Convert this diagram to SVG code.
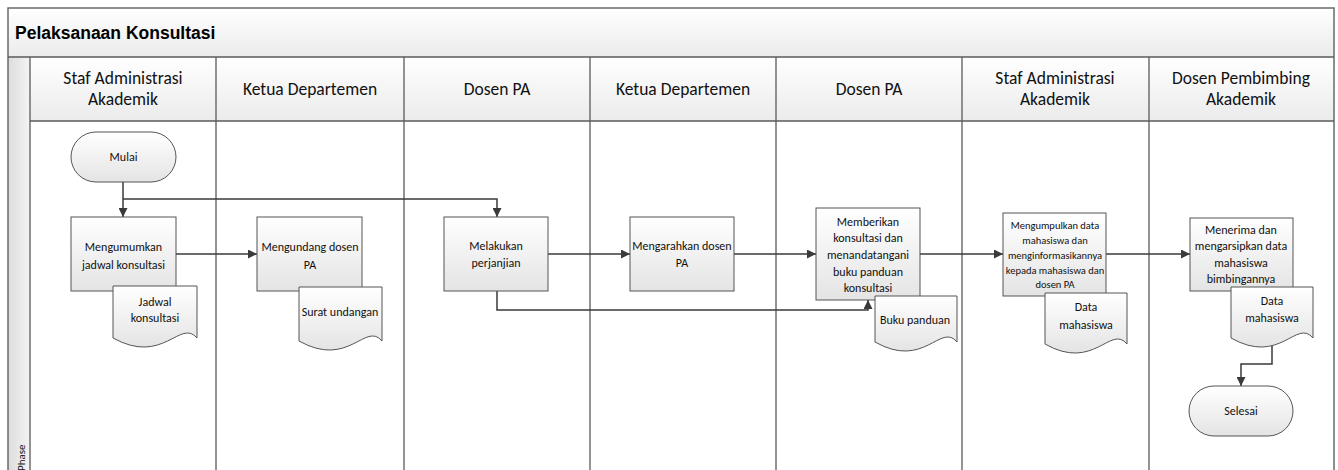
<svg xmlns="http://www.w3.org/2000/svg" width="1338" height="470" viewBox="0 0 1338 470">
<defs>
<linearGradient id="gBand" x1="0" y1="0" x2="0" y2="1"><stop offset="0" stop-color="#ffffff"/><stop offset="1" stop-color="#ebebeb"/></linearGradient>
<linearGradient id="gPhase" x1="0" y1="0" x2="1" y2="0"><stop offset="0" stop-color="#dcdcdc"/><stop offset="1" stop-color="#f4f4f4"/></linearGradient>
<linearGradient id="gNode" x1="0" y1="0" x2="0" y2="1"><stop offset="0" stop-color="#ffffff"/><stop offset="1" stop-color="#e4e4e4"/></linearGradient>
<marker id="arr" viewBox="0 0 10 10" refX="10" refY="5" markerWidth="10" markerHeight="9" markerUnits="userSpaceOnUse" orient="auto"><path d="M0,0 L10,5 L0,10 Z" fill="#3a3a3a"/></marker>
</defs>
<style>
.frame{fill:none;stroke:#6a6a6a;stroke-width:1.5}
.lane{stroke:#5a5a5a;stroke-width:1.3}
.node{fill:url(#gNode);stroke:#555;stroke-width:1}
.conn{fill:none;stroke:#3a3a3a;stroke-width:1.5}
.arrow{marker-end:url(#arr)}
.hd{font-family:Carlito,Lato,"Open Sans",sans-serif;font-size:17.5px;fill:#111;text-anchor:middle}
.tx{font-family:Carlito,Lato,"Open Sans",sans-serif;font-size:12px;fill:#111;text-anchor:middle}
.sm{font-size:10.5px}
.title{font-family:"Liberation Sans",Arial,sans-serif;font-size:17.5px;font-weight:bold;fill:#000}
</style>
<rect x="0" y="0" width="1338" height="470" fill="#ffffff"/>
<g id="pool">
<rect x="8" y="8" width="1326" height="49" fill="url(#gBand)"/>
<rect x="30" y="57" width="1304" height="64" fill="url(#gBand)"/>
<rect x="8" y="57" width="22" height="420" fill="url(#gPhase)"/>
<text class="title" x="15" y="39">Pelaksanaan Konsultasi</text>
<text class="tx" x="25" y="471" transform="rotate(-90 25 471)" style="text-anchor:start;font-size:11px">Phase</text>
<rect class="frame" x="8" y="8" width="1326" height="480"/>
<line class="lane" x1="8" y1="57" x2="1334" y2="57"/>
<line class="lane" x1="30" y1="121" x2="1334" y2="121"/>
<line class="lane" x1="30" y1="57" x2="30" y2="480"/>
<line class="lane" x1="216" y1="57" x2="216" y2="480"/>
<line class="lane" x1="404" y1="57" x2="404" y2="480"/>
<line class="lane" x1="590" y1="57" x2="590" y2="480"/>
<line class="lane" x1="776" y1="57" x2="776" y2="480"/>
<line class="lane" x1="962" y1="57" x2="962" y2="480"/>
<line class="lane" x1="1149" y1="57" x2="1149" y2="480"/>
<text class="hd" x="123" y="84">Staf Administrasi</text>
<text class="hd" x="123" y="105">Akademik</text>
<text class="hd" x="310" y="95">Ketua Departemen</text>
<text class="hd" x="497" y="95">Dosen PA</text>
<text class="hd" x="683" y="95">Ketua Departemen</text>
<text class="hd" x="869" y="95">Dosen PA</text>
<text class="hd" x="1055" y="84">Staf Administrasi</text>
<text class="hd" x="1055" y="105">Akademik</text>
<text class="hd" x="1241" y="84">Dosen Pembimbing</text>
<text class="hd" x="1241" y="105">Akademik</text>
</g>
<g id="connectors">
<path class="conn arrow" d="M123,182 V217"/>
<path class="conn arrow" d="M123,199 H497 V217"/>
<path class="conn arrow" d="M176,254 H257"/>
<path class="conn arrow" d="M548,254 H630"/>
<path class="conn arrow" d="M734,254 H816"/>
<path class="conn arrow" d="M920,254 H1003"/>
<path class="conn arrow" d="M1106,254 H1190"/>
<path class="conn arrow" d="M497,291 V310 H868 V300"/>
<path class="conn arrow" d="M1272,342 V364 H1241 V386"/>
</g>
<g id="mulai">
<rect class="node" x="71" y="132" width="105" height="50" rx="25" ry="25"/>
<text class="tx" x="123.5" y="161">Mulai</text>
</g>
<g id="mengumumkan">
<rect class="node" x="71" y="217" width="105" height="74"/>
<text class="tx" x="123.5" y="251">Mengumumkan</text>
<text class="tx" x="123.5" y="269">jadwal konsultasi</text>
</g>
<g id="doc-jadwal">
<path class="node" d="M113,286 H197 V338 C180.2,318 163.4,366 113,338 Z"/>
<text class="tx" x="155" y="306">Jadwal</text>
<text class="tx" x="155" y="322">konsultasi</text>
</g>
<g id="mengundang">
<rect class="node" x="257" y="217" width="105" height="74"/>
<text class="tx" x="310" y="251">Mengundang dosen</text>
<text class="tx" x="310" y="269">PA</text>
</g>
<g id="doc-surat">
<path class="node" d="M299,287 H382 V341 C365.4,321 348.8,369 299,341 Z"/>
<text class="tx" x="340" y="316">Surat undangan</text>
</g>
<g id="melakukan">
<rect class="node" x="444" y="217" width="104" height="74"/>
<text class="tx" x="496" y="250">Melakukan</text>
<text class="tx" x="496" y="267">perjanjian</text>
</g>
<g id="mengarahkan">
<rect class="node" x="630" y="217" width="104" height="74"/>
<text class="tx" x="682" y="250">Mengarahkan dosen</text>
<text class="tx" x="682" y="267">PA</text>
</g>
<g id="memberikan">
<rect class="node" x="816" y="208" width="104" height="92"/>
<text class="tx" x="868" y="226">Memberikan</text>
<text class="tx" x="868" y="242">konsultasi dan</text>
<text class="tx" x="868" y="259">menandatangani</text>
<text class="tx" x="868" y="276">buku panduan</text>
<text class="tx" x="868" y="292">konsultasi</text>
</g>
<g id="doc-buku">
<path class="node" d="M875,296 H957 V342 C940.6,322 924.2,370 875,342 Z"/>
<text class="tx" x="915" y="324">Buku panduan</text>
</g>
<g id="mengumpulkan">
<rect class="node" x="1003" y="213" width="103" height="83"/>
<text class="tx sm" x="1055" y="229">Mengumpulkan data</text>
<text class="tx sm" x="1055" y="244">mahasiswa dan</text>
<text class="tx sm" x="1055" y="259">menginformasikannya</text>
<text class="tx sm" x="1055" y="274">kepada mahasiswa dan</text>
<text class="tx sm" x="1055" y="288">dosen PA</text>
</g>
<g id="doc-data1">
<path class="node" d="M1045,293 H1127 V344 C1110.6,324 1094.2,372 1045,344 Z"/>
<text class="tx" x="1086" y="311">Data</text>
<text class="tx" x="1086" y="329">mahasiswa</text>
</g>
<g id="menerima">
<rect class="node" x="1190" y="218" width="103" height="73"/>
<text class="tx" x="1241" y="234">Menerima dan</text>
<text class="tx" x="1241" y="250">mengarsipkan data</text>
<text class="tx" x="1241" y="267">mahasiswa</text>
<text class="tx" x="1241" y="283">bimbingannya</text>
</g>
<g id="doc-data2">
<path class="node" d="M1231,287 H1313 V338 C1296.6,318 1280.2,366 1231,338 Z"/>
<text class="tx" x="1272" y="305">Data</text>
<text class="tx" x="1272" y="322">mahasiswa</text>
</g>
<g id="selesai">
<rect class="node" x="1189" y="386" width="104" height="50" rx="25" ry="25"/>
<text class="tx" x="1241" y="415">Selesai</text>
</g>
</svg>
